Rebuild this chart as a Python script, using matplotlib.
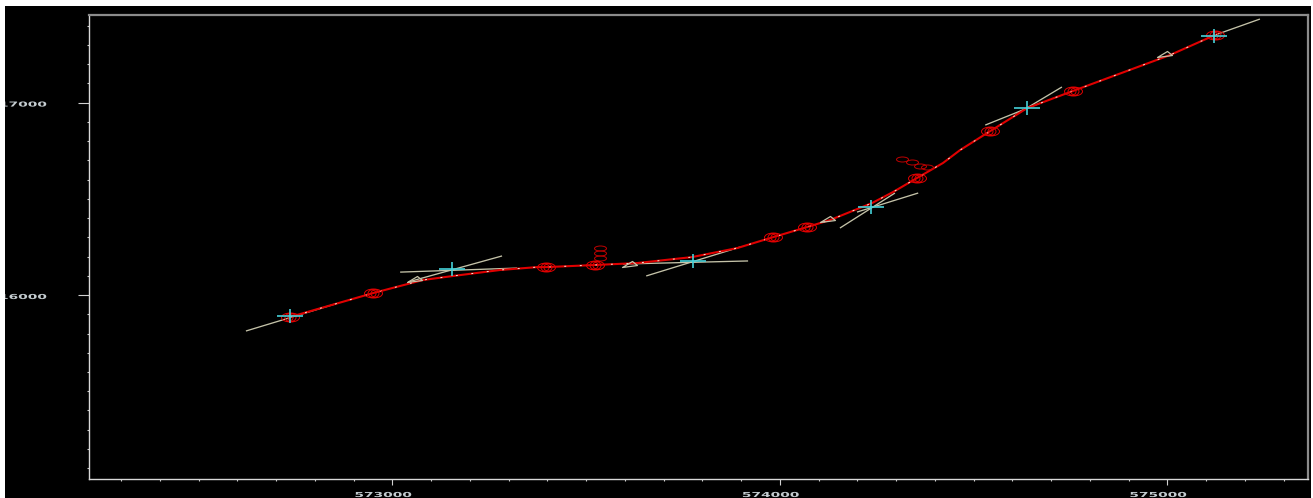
import matplotlib
matplotlib.use("Agg")
import matplotlib.pyplot as plt
import numpy as np
from matplotlib.path import Path
from matplotlib.patches import Rectangle
from matplotlib.patheffects import AbstractPathEffect
from matplotlib.transforms import Affine2D

# ---- data ----
curve_x = [572736,572950,573020,573079,573157,573278,573373,573397,573523,573631,573773,573890,
           573983,574070,574130,574238,574292,574354,574421,574465,574543,574638,574756,575007,575123]
curve_y = [15886,16010,16047,16078,16099,16130,16145,16145,16156,16166,16197,16244,
           16301,16353,16390,16478,16535,16608,16686,16753,16852,16971,17060,17247,17351]
ring_x = [572736,572950,573397,573523,573983,574070,574354,574543,574756,575123]
ring_y = [15886,16010,16145,16156,16301,16353,16608,16852,17060,17351]
small_x = [573536,573536,573536,574315,574341,574362,574380]
small_y = [16244,16218,16192,16706,16691,16670,16665]
cross_x = [572736,573154,573776,574236,574638,575120]
cross_y = [15891,16135,16177,16457,16971,17345]
tri_x = [573064,573619,574130,575000]
tri_y = [16083,16161,16395,17252]
tan_x0 = [572622,573020,573041,573595,573655,574155,574199,574530,574607,575123]
tan_y0 = [15813,16119,16068,16161,16099,16348,16431,16883,16935,17351]
tan_x1 = [572852,573322,573283,573918,573897,574297,574357,574671,574728,575239]
tan_y1 = [15953,16140,16203,16177,16249,16530,16530,16997,17081,17434]
x_major = [573000,574000,575000]
y_major = [16000,17000]
x_minor = [572300,572400,572500,572600,572700,572800,572900,573100,573200,573300,573400,573500,
           573600,573700,573800,573900,574100,574200,574300,574400,574500,574600,574700,574800,
           574900,575100,575200,575300]
y_minor = [15100,15200,15300,15400,15500,15600,15700,15800,15900,16100,16200,16300,16400,16500,
           16600,16700,16800,16900,17100,17200,17300,17400]
x_labels = ["573000","574000","575000"]
y_labels = ["16000","17000"]

W, H = 1313, 498
PX = 72 / 100  # points per pixel
fig = plt.figure(figsize=(W/100, H/100), dpi=100, facecolor="black")
ax = fig.add_axes([89/W, (H-479)/H, (1308-89)/W, (479-15)/H], facecolor="black")
ax.set_xlim(572217, 575363)
ax.set_ylim(15044, 17455)

CREAM = "#c4c2a8"
RED = "#e00000"
CYAN = "#45d0d8"

# tangent segments
for x0, y0, x1, y1 in zip(tan_x0, tan_y0, tan_x1, tan_y1):
    ax.plot([x0, x1], [y0, y1], color=CREAM, lw=0.95, solid_capstyle="butt", zorder=2)

# smoothed curve + dotted overlay
ax.plot(curve_x, curve_y, color=RED, lw=1.5, zorder=3)
ax.plot(curve_x, curve_y, color="#f4eed8", lw=0.7, ls=(0, (2, 14)), zorder=4)

# rings
def ell(a, b):
    return Path.unit_circle().transformed(Affine2D().scale(a, b))
ring = Path.make_compound_path(ell(9, 4.5), ell(5.5, 4), ell(2.5, 3))
ax.plot(ring_x, ring_y, ls="none", marker=ring, ms=2*9*PX, mfc="none", mec=RED, mew=0.7, zorder=5)
small = ell(6, 2.5)
ax.plot(small_x, small_y, ls="none", marker=small, ms=2*6*PX, mfc="none", mec="#c00000", mew=0.7, zorder=3)

# crosses
cross = Path([(-13, 0), (13, 0), (0, -7), (0, 7)], [Path.MOVETO, Path.LINETO, Path.MOVETO, Path.LINETO])
ax.plot(cross_x, cross_y, ls="none", marker=cross, ms=2*13*PX, mfc="none", mec=CYAN, mew=1.2, zorder=6)

# triangles
tri = Path([(-10, -3), (0, 3), (5, -1), (-10, -3)], closed=True)
ax.plot(tri_x, tri_y, ls="none", marker=tri, ms=2*10*PX, mfc="none", mec=CREAM, mew=0.9, zorder=4)


class Stretch(AbstractPathEffect):
    """Squash/widen glyphs around their origin, like the reference's wide bitmap font."""
    def __init__(self, sx, sy):
        super().__init__()
        self.sx, self.sy = sx, sy
    def draw_path(self, renderer, gc, tpath, affine, rgbFace=None):
        renderer.draw_path(gc, tpath, Affine2D().scale(self.sx, self.sy) + affine, rgbFace)

# spines
for s in ax.spines.values():
    s.set_linewidth(1.0)
ax.spines["left"].set_color("#d8d8d8")
ax.spines["bottom"].set_color("#d8d8d8")
ax.spines["top"].set_color("#8c8c8c")
ax.spines["top"].set_linewidth(1.6)
ax.spines["right"].set_color("#8c8c8c")
ax.spines["right"].set_linewidth(1.6)

# ticks
ax.set_xticks(x_major, x_labels)
ax.set_yticks(y_major, y_labels)
ax.set_xticks(x_minor, minor=True)
ax.set_yticks(y_minor, minor=True)
ax.tick_params(axis="x", which="major", length=6*PX, width=0.8, color="#d0d0d0", pad=12*PX,
               labelcolor="#c4ccd0", labelsize=8)
ax.tick_params(axis="y", which="major", length=11*PX, width=0.8, color="#d0d0d0", pad=79*PX,
               labelcolor="#c4ccd0", labelsize=8)
ax.tick_params(axis="both", which="minor", length=2.5*PX, width=0.8, color="#d0d0d0")
fx = Stretch(1.24, 0.62)
for lab in ax.get_xticklabels():
    lab.set_fontfamily("DejaVu Sans"); lab.set_fontweight("bold")
    lab.set_ha("left"); lab.set_va("baseline")
    lab.set_path_effects([fx])
    lab.set_transform(lab.get_transform() + Affine2D().translate(-38, 0))
for lab in ax.get_yticklabels():
    lab.set_fontfamily("DejaVu Sans"); lab.set_fontweight("bold")
    lab.set_ha("left"); lab.set_va("baseline")
    lab.set_path_effects([fx])
    lab.set_transform(lab.get_transform() + Affine2D().translate(0, -4))

# white frame of the screenshot (top, left, right)
for (x, y, w, h) in [(0, H-6, W, 6), (0, 0, 5, H), (W-2, 0, 2, H)]:
    fig.add_artist(Rectangle((x/W, y/H), w/W, h/H, transform=fig.transFigure,
                             fc="white", ec="none", zorder=10))

fig.savefig("out.png", dpi=100, facecolor="black")
